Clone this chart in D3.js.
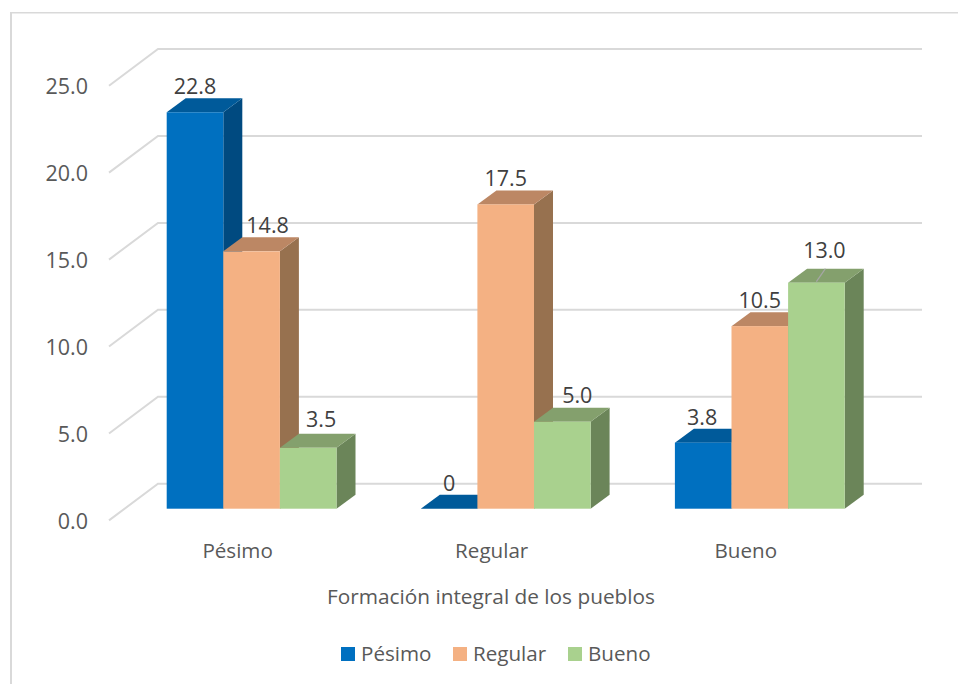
<!DOCTYPE html>
<html><head><meta charset="utf-8">
<script src="https://cdn.jsdelivr.net/npm/d3@7/dist/d3.min.js"></script>
<style>html,body{margin:0;padding:0;background:#fff}svg{display:block}text{font-family:"Open Sans",sans-serif}</style>
</head><body><svg id="c" width="958" height="684"></svg>
<script>
const categories = ["Pésimo","Regular","Bueno"];
const seriesNames = ["Pésimo","Regular","Bueno"];
const pesimo = [22.8,0,3.8];
const regular = [14.8,17.5,10.5];
const bueno = [3.5,5.0,13.0];
const labels = [["22.8","0","3.8"],["14.8","17.5","10.5"],["3.5","5.0","13.0"]];
const ticks = [0,5,10,15,20,25];
const frontColors = ["#0070C0","#F4B183","#A9D18E"];
const topColors = ["#005A9A","#BC8764","#84A06D"];
const sideColors = ["#004A80","#97714F","#6B8559"];
const series = [pesimo,regular,bueno];

const svg = d3.select("#c");
const y = d3.scaleLinear().domain([0,25]).range([508.7,74]);
const x0 = d3.scaleBand().domain(categories).range([112.7,875]);
const bw = 56.6, dx = 19, dy = 14;
const barX = (c,s)=> x0(c)+54+bw*s;

// manual data-label nudges [horizontal, vertical] by series and category
const labelNudge = [
  [[0,-18],[0,-18],[-1,-18]],
  [[16,-18],[0,-18],[0,-18]],
  [[13,-21],[15,-19],[8,-25]]
];

const frame = svg.append("g").attr("stroke","#D9D9D9").attr("fill","none");
frame.append("path").attr("d","M11,684V12.8").attr("stroke-width",2);
frame.append("path").attr("d","M10,12.8H958").attr("stroke-width",1.4);

const grid = svg.append("g").attr("fill","none").attr("stroke","#D9D9D9").attr("stroke-width",2);
ticks.forEach(t=>{
  const yy=y(t);
  grid.append("path").attr("d",`M109,${yy+11.7}L158,${yy-25}L922,${yy-25}`);
});

svg.append("g").selectAll("text").data(ticks).join("text")
  .attr("x",88).attr("y",d=>y(d)+20).attr("text-anchor","end")
  .attr("font-size",21.5).attr("fill","#595959")
  .text(d=>d3.format(".1f")(d));

series.forEach((vals,s)=>{
  const g = svg.append("g");
  categories.forEach((c,i)=>{
    const v=vals[i], X=barX(c,s), T=y(v), B=y(0);
    g.append("path").attr("fill",sideColors[s]).attr("d",`M${X+bw},${T}L${X+bw+dx},${T-dy}L${X+bw+dx},${B-dy}L${X+bw},${B}Z`);
    g.append("path").attr("fill",topColors[s]).attr("d",`M${X},${T}L${X+dx},${T-dy}L${X+bw+dx},${T-dy}L${X+bw},${T}Z`);
    if(v>0) g.append("rect").attr("x",X).attr("y",T).attr("width",bw).attr("height",B-T).attr("fill",frontColors[s]);
  });
});

const lx = barX("Bueno",2)+bw/2;
svg.append("line").attr("x1",lx).attr("y1",y(13)-1).attr("x2",lx+9).attr("y2",y(13)-14).attr("stroke","#A6A6A6").attr("stroke-width",1.2);

series.forEach((vals,s)=>{
  categories.forEach((c,i)=>{
    svg.append("text")
      .attr("x",barX(c,s)+bw/2+labelNudge[s][i][0]).attr("y",y(vals[i])+labelNudge[s][i][1])
      .attr("text-anchor","middle").attr("font-size",21.5).attr("fill","#404040")
      .text(labels[s][i]);
  });
});

svg.append("g").selectAll("text").data(categories).join("text")
  .attr("x",c=>barX(c,1)+bw/2-14).attr("y",558).attr("text-anchor","middle")
  .attr("font-size",20.6).attr("fill","#595959").text(d=>d);

svg.append("text").attr("x",491).attr("y",604).attr("text-anchor","middle")
  .attr("font-size",20.8).attr("fill","#595959").text("Formación integral de los pueblos");

const legendX=[341,453,568], textX=[361,473,588];
seriesNames.forEach((n,i)=>{
  svg.append("rect").attr("x",legendX[i]).attr("y",647).attr("width",14).attr("height",14).attr("fill",frontColors[i]);
  svg.append("text").attr("x",textX[i]).attr("y",661).attr("font-size",20.6).attr("fill","#595959").text(n);
});
</script></body></html>
